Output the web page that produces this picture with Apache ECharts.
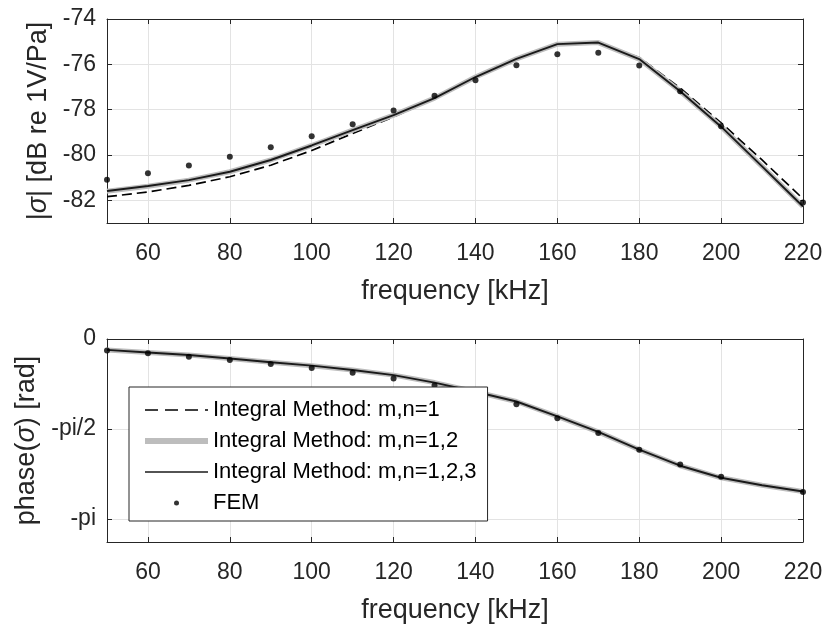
<!DOCTYPE html>
<html>
<head>
<meta charset="utf-8">
<script src="https://cdn.jsdelivr.net/npm/echarts@6/dist/echarts.min.js"></script>
<style>html,body{margin:0;padding:0;background:#fff;}#c{width:827px;height:628px;}</style>
</head>
<body>
<div id="c"></div>
<script>
// ---- data ----
var freq = [50, 60, 70, 80, 90, 100, 110, 120, 130, 140, 150, 160, 170, 180, 190, 200, 210, 220];

// magnitude |sigma| [dB re 1V/Pa]
var magN1   = [-81.84, -81.63, -81.34, -80.96, -80.45, -79.80, -79.05, -78.32, -77.53, -76.60, -75.80, -75.13, -75.03, -75.70, -77.05, -78.58, -80.22, -81.93];
var magN12  = [-81.60, -81.38, -81.11, -80.74, -80.22, -79.58, -78.90, -78.24, -77.49, -76.56, -75.76, -75.11, -75.04, -75.77, -77.19, -78.75, -80.50, -82.27];
var magN123 = [-81.59, -81.37, -81.11, -80.74, -80.22, -79.58, -78.90, -78.24, -77.49, -76.56, -75.76, -75.11, -75.04, -75.77, -77.19, -78.75, -80.50, -82.27];
var magFEM  = [-81.09, -80.80, -80.46, -80.08, -79.66, -79.17, -78.64, -78.04, -77.39, -76.70, -76.04, -75.55, -75.49, -76.05, -77.19, -78.73, null, -82.10];

// phase(sigma) [rad]
var phN1   = [-0.19, -0.235, -0.28, -0.34, -0.405, -0.465, -0.54, -0.63, -0.76, -0.92, -1.09, -1.35, -1.62, -1.93, -2.21, -2.42, -2.55, -2.66];
var phN12  = [-0.19, -0.235, -0.28, -0.34, -0.405, -0.465, -0.54, -0.63, -0.76, -0.92, -1.09, -1.35, -1.62, -1.93, -2.21, -2.42, -2.55, -2.66];
var phN123 = [-0.19, -0.235, -0.28, -0.34, -0.405, -0.465, -0.54, -0.63, -0.76, -0.92, -1.09, -1.35, -1.62, -1.93, -2.21, -2.42, -2.55, -2.66];
var phFEM  = [-0.20, -0.25, -0.31, -0.366, -0.436, -0.505, -0.59, -0.69, -0.81, -0.94, -1.14, -1.38, -1.64, -1.93, -2.19, -2.40, null, -2.67];

// ticks
var freqTicks = [60, 80, 100, 120, 140, 160, 180, 200, 220];
var magTicks = [-82, -80, -78, -76, -74];
var phaseTicks = [-Math.PI, -Math.PI / 2, 0];
var phaseTickLabels = ['-pi', '-pi/2', '0'];

var names = ['Integral Method: m,n=1', 'Integral Method: m,n=1,2', 'Integral Method: m,n=1,2,3', 'FEM'];

// ---- chart ----
var FONT = 'Liberation Sans';
var AX = '#262626';
var TICKFS = 23, NAMEFS = 27, LEGFS = 22;
function pairs(ys) { return freq.map(function (f, i) { return [f, ys[i]]; }); }

function xAx(gi, pos, showLabels, nameText) {
  return {
    type: 'value', gridIndex: gi, position: pos, min: 50, max: 220,
    axisLine: { show: true, onZero: false, lineStyle: { color: AX, width: 1 } },
    axisTick: { show: true, inside: true, length: 5, customValues: freqTicks, lineStyle: { color: AX } },
    axisLabel: { show: showLabels, customValues: freqTicks, fontSize: TICKFS, fontFamily: FONT, color: AX, margin: 19 },
    splitLine: { show: pos === 'bottom', lineStyle: { color: '#e3e3e3', width: 1 } },
    name: nameText || '', nameLocation: 'middle', nameGap: 55,
    nameTextStyle: { fontSize: NAMEFS, fontFamily: FONT, color: AX }
  };
}
function yAx(gi, pos, min, max, ticks, fmt, showLabels, nameText, gap) {
  return {
    type: 'value', gridIndex: gi, position: pos, min: min, max: max,
    axisLine: { show: true, onZero: false, lineStyle: { color: AX, width: 1 } },
    axisTick: { show: true, inside: true, length: 5, customValues: ticks, lineStyle: { color: AX } },
    axisLabel: { show: showLabels, customValues: ticks, formatter: fmt, fontSize: TICKFS, fontFamily: FONT, color: AX, margin: 11 },
    splitLine: { show: pos === 'left', lineStyle: { color: '#e3e3e3', width: 1 } },
    name: nameText || '', nameLocation: 'middle', nameGap: gap || 50,
    nameTextStyle: { fontSize: NAMEFS, fontFamily: FONT, color: AX, rich: { s: { fontStyle: 'italic', fontSize: NAMEFS, fontFamily: FONT, color: AX } } }
  };
}

function phaseFmt(v) {
  for (var i = 0; i < phaseTicks.length; i++) {
    if (Math.abs(v - phaseTicks[i]) < 1e-6) return phaseTickLabels[i];
  }
  return '';
}

function lineSeries(gi, name, ys, style, z) {
  return {
    type: 'line', name: name, xAxisIndex: gi * 2, yAxisIndex: gi * 2,
    data: pairs(ys), symbol: 'none', showSymbol: false, smooth: false,
    lineStyle: style, itemStyle: { color: style.color }, z: z, animation: false, connectNulls: true
  };
}
function femSeries(gi, ys) {
  return {
    type: 'scatter', name: names[3], xAxisIndex: gi * 2, yAxisIndex: gi * 2,
    data: pairs(ys).filter(function (p) { return p[1] !== null; }),
    symbol: 'circle', symbolSize: 6, itemStyle: { color: '#000' }, z: 6, animation: false
  };
}

var stDash = { color: '#000', width: 1.7, type: [10, 5] };
var stGray = { color: '#bdbdbd', width: 5 };
var stSolid = { color: '#1a1a1a', width: 1.9 };

var option = {
  backgroundColor: '#fff',
  animation: false,
  grid: [
    { left: 107, right: 24, top: 19, height: 204 },
    { left: 107, right: 24, top: 339, height: 203 }
  ],
  xAxis: [
    xAx(0, 'bottom', true, 'frequency [kHz]'),
    xAx(0, 'top', false),
    xAx(1, 'bottom', true, 'frequency [kHz]'),
    xAx(1, 'top', false)
  ],
  yAxis: [
    yAx(0, 'left', -83, -74, magTicks, null, true, '|{s|σ}| [dB re 1V/Pa]', 54),
    yAx(0, 'right', -83, -74, magTicks, null, false),
    yAx(1, 'left', -3.54, 0, phaseTicks, phaseFmt, true, 'phase({s|σ}) [rad]', 65),
    yAx(1, 'right', -3.54, 0, phaseTicks, phaseFmt, false)
  ],
  legend: {
    data: [
      { name: names[0], itemStyle: { opacity: 0 }, lineStyle: { width: 1.7, type: [13, 7], color: '#000' } },
      { name: names[1], itemStyle: { opacity: 0 }, lineStyle: { width: 6, color: '#bdbdbd' } },
      { name: names[2], itemStyle: { opacity: 0 }, lineStyle: { width: 1.7, color: '#1a1a1a' } },
      { name: names[3] }
    ],
    orient: 'vertical', left: 129, top: 387,
    padding: [12, 11, 7, 13], itemGap: 9, itemWidth: 63, itemHeight: 5,
    backgroundColor: '#fff', borderColor: AX, borderWidth: 1, borderRadius: 0,
    textStyle: { fontSize: LEGFS, fontFamily: FONT, color: '#000' },
    selectedMode: false, z: 10
  },
  series: [
    lineSeries(0, names[0], magN1, stDash, 2),
    lineSeries(0, names[1], magN12, stGray, 3),
    lineSeries(0, names[2], magN123, stSolid, 4),
    femSeries(0, magFEM),
    lineSeries(1, names[0], phN1, stDash, 2),
    lineSeries(1, names[1], phN12, stGray, 3),
    lineSeries(1, names[2], phN123, stSolid, 4),
    femSeries(1, phFEM)
  ]
};

var chart = echarts.init(document.getElementById('c'), null, { renderer: 'canvas' });
chart.setOption(option);
</script>
</body>
</html>
